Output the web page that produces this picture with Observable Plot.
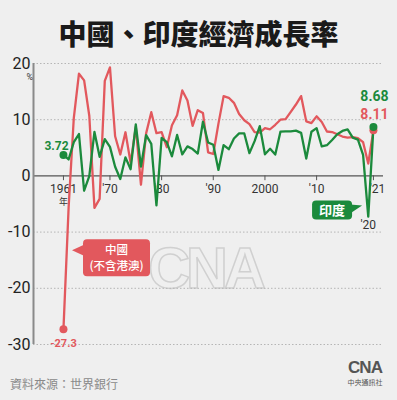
<!DOCTYPE html>
<html><head><meta charset="utf-8">
<script src="https://cdn.jsdelivr.net/npm/d3@7"></script>
<script src="https://cdn.jsdelivr.net/npm/@observablehq/plot@0.6"></script>
<style>
body{margin:0;background:#efefef;}
#wrap{position:relative;width:397px;height:400px;overflow:hidden;background:#efefef;font-family:"Noto Sans CJK TC",sans-serif;}
#title{position:absolute;left:0;top:0;width:397px;height:52px;text-align:center;font-size:28px;font-weight:900;line-height:66px;color:#1a1a1a;}
#chart{position:absolute;left:0;top:52px;}
#caption{position:absolute;left:10px;top:375px;font-size:12px;color:#8a8a8a;}
#logo{position:absolute;left:340px;top:358px;width:50px;text-align:center;color:#555;}
#logo .l1{font-family:"Liberation Sans","DejaVu Sans",sans-serif;font-weight:900;font-size:17px;line-height:20px;letter-spacing:-1px;}
#logo .l2{font-size:7px;line-height:9px;}
</style></head>
<body>
<div id="wrap">
  <div id="title">中國、印度經濟成長率</div>
  <div id="chart"></div>
  <div id="caption">資料來源：世界銀行</div>
  <div id="logo"><div class="l1">CNA</div><div class="l2">中央通訊社</div></div>
</div>
<script>
const years = [1961,1962,1963,1964,1965,1966,1967,1968,1969,1970,
  1971,1972,1973,1974,1975,1976,1977,1978,1979,1980,
  1981,1982,1983,1984,1985,1986,1987,1988,1989,1990,
  1991,1992,1993,1994,1995,1996,1997,1998,1999,2000,
  2001,2002,2003,2004,2005,2006,2007,2008,2009,2010,
  2011,2012,2013,2014,2015,2016,2017,2018,2019,2020,2021];
const china = [-27.27,-5.58,10.3,18.18,17.0,10.7,-5.7,-4.1,16.9,19.3,
  7.06,3.81,7.76,2.31,8.72,-1.57,7.57,11.33,7.6,7.8,
  5.1,9.0,10.8,15.2,13.4,8.9,11.7,11.2,4.2,3.9,
  9.3,14.2,13.9,13.0,11.0,9.9,9.2,7.8,7.7,8.5,
  8.3,9.1,10.0,10.1,11.4,12.7,14.2,9.7,9.4,10.6,
  9.6,7.9,7.8,7.4,7.0,6.8,6.9,6.7,6.0,2.2,8.11];
const india = [3.72,2.93,5.99,7.45,-2.64,-0.06,7.83,3.39,6.54,5.16,
  1.64,-0.55,3.3,1.19,9.15,1.66,7.25,5.71,-5.24,6.74,
  6.01,3.48,7.29,3.82,5.25,4.78,3.97,9.63,5.95,5.53,
  1.06,5.48,4.75,6.66,7.57,7.55,4.05,6.18,8.85,3.84,
  4.82,3.8,7.86,7.92,7.92,8.06,7.66,3.09,7.86,8.5,
  5.24,5.46,6.39,7.41,8.0,8.26,6.8,6.45,3.74,-7.25,8.68];
const tickYears = [1961,1970,1980,1990,2000,2010,2021];
const tickLabels = ["1961","'70","'80","'90","2000","'10","'21"];
const yTicks = [-30,-20,-10,0,10,20];
const seriesNames = ["中國","印度"];

const RED = "#e2585d", GREEN = "#1b8a3c";
const NUM = "'Roboto','Liberation Sans Narrow','DejaVu Sans Condensed',sans-serif";
const chinaData = years.map((y,i)=>({year:y, value:china[i]}));
const indiaData = years.map((y,i)=>({year:y, value:india[i]}));
const first = 0, last = years.length - 1;
const lastTick = tickYears.length - 1;

const chart = Plot.plot({
  width: 397, height: 348,
  marginTop: 11, marginBottom: 56, marginLeft: 33, marginRight: 14,
  x: {domain: [1955.2, 2022.95], axis: null},
  y: {domain: [-30, 20], axis: null},
  style: {background: "transparent", fontFamily: NUM},
  marks: [
    Plot.gridY(yTicks.filter(d=>d!==0), {stroke: "#b5b5b5", strokeOpacity: 1, strokeDasharray: "1.5,2", strokeWidth: 1}),
    Plot.axisY(yTicks, {label: null, tickSize: 0, tickPadding: 3, fontSize: 16, fill: "#222", tickFormat: d=>String(d)}),
    Plot.text(["%"], {frameAnchor: "top-left", dx: -7, dy: 10, fontSize: 9, fill: "#333"}),
    Plot.ruleY([0], {stroke: "#555", strokeWidth: 1.2}),
    Plot.ruleX([1955.2], {y1: -30, y2: 20, stroke: "#8a8a8a", strokeWidth: 2}),
    Plot.ruleX(tickYears, {y1: 0, y2: -0.85, stroke: "#555", strokeWidth: 1}),
    Plot.text(tickYears.slice(0, lastTick), {x: d=>d, y: 0, text: (d,i)=>tickLabels[i], dy: 13, fontSize: 12, fill: "#333"}),
    Plot.text([tickYears[lastTick]], {x: d=>d, y: 0, text: ()=>tickLabels[lastTick], dy: 13, dx: 4, fontSize: 12, fill: "#333"}),
    Plot.text([tickYears[0]], {x: d=>d, y: 0, text: ()=>"年", dy: 26, fontSize: 9, fill: "#333", fontFamily: "Noto Sans CJK TC"}),
    Plot.line(chinaData, {x: "year", y: "value", stroke: RED, strokeWidth: 2.3, strokeLinejoin: "round"}),
    Plot.line(indiaData, {x: "year", y: "value", stroke: GREEN, strokeWidth: 2.3, strokeLinejoin: "round"}),
    Plot.dot([chinaData[first], chinaData[last]], {x: "year", y: "value", r: 4, fill: RED}),
    Plot.dot([indiaData[first], indiaData[last]], {x: "year", y: "value", r: 4, fill: GREEN}),
    Plot.text([indiaData[first]], {x: "year", y: "value", text: d=>d.value.toFixed(2), dx: -7, dy: -9, fontSize: 12, fontWeight: "bold", fill: GREEN}),
    Plot.text([chinaData[first]], {x: "year", y: "value", text: d=>d.value.toFixed(1), dy: 14, fontSize: 11, fontWeight: "bold", fill: RED}),
    Plot.text([indiaData[last]], {x: "year", y: "value", text: d=>d.value.toFixed(2), dx: 1, dy: -31, fontSize: 14, fontWeight: "bold", fill: GREEN}),
    Plot.text([chinaData[last]], {x: "year", y: "value", text: d=>d.value.toFixed(2), dx: 1, dy: -16, fontSize: 14, fontWeight: "bold", fill: RED}),
    Plot.text([indiaData[last-1]], {x: "year", y: "value", text: d=>"'" + String(d.year).slice(2), dy: 9, fontSize: 12, fill: "#333"})
  ]
});
document.getElementById("chart").appendChild(chart);

const xs = chart.scale("x"), ys = chart.scale("y");
const svg = d3.select(chart);
svg.insert("text", ":first-child").attr("x", xs.apply(1988.5)).attr("y", ys.apply(-20))
  .attr("text-anchor", "middle").attr("font-family", "Liberation Sans, DejaVu Sans, sans-serif")
  .attr("font-weight", 900).attr("font-size", 58).attr("fill", "none")
  .attr("stroke", "#d0d0d0").attr("stroke-width", 1.5).attr("letter-spacing", -4).text("CNA");

function callout(tipYear, tipVal, box, tri, color, lines, fs, fw, gap) {
  const tx = xs.apply(tipYear), ty = ys.apply(tipVal);
  const g = svg.append("g").attr("transform", `translate(${tx},${ty})`);
  g.append("rect").attr("x", box[0]).attr("y", box[1]).attr("width", box[2]).attr("height", box[3])
    .attr("rx", 4).attr("fill", color);
  g.append("path").attr("d", `M0,0L${tri[0]},${tri[1]}L${tri[2]},${tri[3]}Z`).attr("fill", color);
  lines.forEach((t, i) => {
    g.append("text").attr("x", box[0] + box[2]/2).attr("y", box[1] + box[3]/2 + (i - (lines.length-1)/2) * gap)
      .attr("dy", "0.36em").attr("text-anchor", "middle").attr("fill", "#fff")
      .attr("font-family", "Noto Sans CJK TC, sans-serif").attr("font-size", fs).attr("font-weight", fw).text(t);
  });
}
callout(1962.75, -13.3, [11, -11, 67, 37], [13, -6, 13, 6], RED, [seriesNames[0], "(不含港澳)"], 11.5, 500, 16.5);
callout(2018.9, -5.35, [-50, -5, 40, 19], [-12, -1, -12, 8], GREEN, [seriesNames[1]], 13, 700, 14);
</script>
</body></html>
